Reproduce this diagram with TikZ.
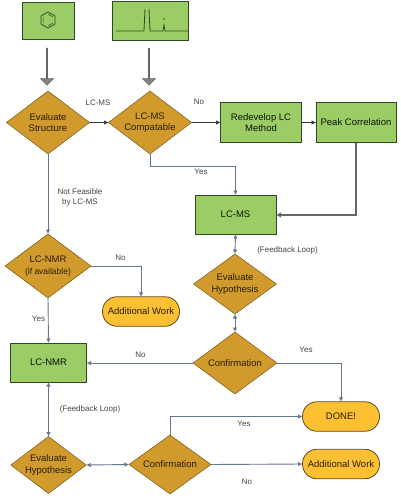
\documentclass[tikz,border=0pt]{standalone}
\usepackage{fontspec}
\setmainfont{Liberation Sans}
\usetikzlibrary{shapes.geometric,shapes.arrows,arrows.meta,calc}
\definecolor{boxgreen}{HTML}{9CCC65}
\definecolor{boxedge}{HTML}{2F4A22}
\definecolor{dia}{HTML}{D09A2C}
\definecolor{diaedge}{HTML}{7A5A20}
\definecolor{pill}{HTML}{FCC032}
\definecolor{pilledge}{HTML}{5E4A20}
\definecolor{conn}{HTML}{66758E}
\definecolor{blockgrey}{HTML}{858585}
\definecolor{lbl}{HTML}{444444}
\tikzset{
  x=1pt,y=-1pt,
  stepbox/.style={draw=boxedge,line width=0.9pt,fill=boxgreen,rectangle,inner sep=0,outer sep=0,align=center,font=\fontsize{9.5}{11.5}\selectfont,text=black!75!boxedge},
  decision/.style={diamond,draw=diaedge,line width=0.5pt,fill=dia,inner sep=0,outer sep=0,shape aspect=1.4,align=center,font=\fontsize{9.5}{11.5}\selectfont,text=black!80!dia},
  terminal/.style={rectangle,rounded corners=14.5pt,draw=pilledge,line width=0.8pt,fill=pill,inner sep=0,outer sep=0,align=center,minimum width=77pt,minimum height=29.5pt,font=\fontsize{9.5}{11.5}\selectfont,text=black!85!pill},
  conn/.style={draw=conn,line width=0.9pt,-{Latex[length=4.5pt,width=4.5pt]}},
  connb/.style={draw=conn,line width=0.9pt,{Latex[length=4.5pt,width=4.5pt]}-{Latex[length=4.5pt,width=4.5pt]}},
  blackconn/.style={draw=black!80,line width=0.7pt,-{Latex[length=4.5pt,width=4.5pt]}},
  heavyconn/.style={draw=black!60,line width=1.3pt,-{Latex[length=5pt,width=5.5pt]}},
  lab/.style={font=\fontsize{8}{10}\selectfont,text=lbl,align=center,inner sep=0},
  blockarrow/.style={single arrow,draw=black!60,line width=0.6pt,fill=blockgrey,rotate=-90,minimum height=37pt,minimum width=13pt,single arrow head extend=4pt,single arrow tip angle=90,inner sep=0,outer sep=0},
  glyph/.style={draw=boxedge,line width=0.8pt}
}
\begin{document}
\begin{tikzpicture}
\useasboundingbox (0,0) rectangle (400,498);
\fill[white] (0,0) rectangle (400,498);
% picture boxes
\node[stepbox,minimum width=52pt,minimum height=37pt] (pic1) at (48,20.5) {};
\node[stepbox,minimum width=76pt,minimum height=39pt] (pic2) at (150,20.5) {};
\draw[glyph] (48,12) -- (55,16) -- (55,24) -- (48,28) -- (41,24) -- (41,16) -- cycle;
\draw[glyph,line width=0.5pt] (43,17) -- (43,23) (48,14) -- (53,17) (48,26) -- (53,23);
\draw[glyph] (116,31) -- (144,31) -- (145,9) (149,9) -- (150,31) -- (161,31) -- (163,31) -- (164,25) -- (165,31) -- (188,31);
\fill[boxedge] (164,19) circle (0.9pt);
% block arrows
\node[blockarrow] (ga1) at (47,66.5) {};
\node[blockarrow] (ga2) at (149,66.5) {};
% decisions
\node[decision,minimum width=83pt,minimum height=63pt] (evals) at (48,122.5) {Evaluate\\Structure};
\node[decision,minimum width=83pt,minimum height=63pt] (compat) at (150,122.5) {LC-MS\\Compatable};
\node[decision,minimum width=86pt,minimum height=64pt] (nmrd) at (48,266) {LC-NMR\\{\fontsize{8.5}{10.5}\selectfont(if available)}};
\node[decision,minimum width=83pt,minimum height=60pt] (evalh) at (235,284) {Evaluate\\Hypothesis};
\node[decision,minimum width=84pt,minimum height=62pt] (conf) at (235,363) {Confirmation};
\node[decision,minimum width=75pt,minimum height=57pt] (evalh2) at (48.5,465) {Evaluate\\Hypothesis};
\node[decision,minimum width=82pt,minimum height=59pt] (conf2) at (170,464.5) {Confirmation};
% process boxes
\node[stepbox,minimum width=81pt,minimum height=40pt] (redev) at (261,122.5) {Redevelop LC\\Method};
\node[stepbox,minimum width=80pt,minimum height=40pt] (peak) at (356,122.5) {Peak Correlation};
\node[stepbox,minimum width=81pt,minimum height=39pt] (lcms) at (235.5,214.5) {LC-MS};
\node[stepbox,minimum width=76pt,minimum height=39pt] (lcnmr) at (48.5,362.5) {LC-NMR};
% terminals
\node[terminal] (add1) at (141,311.5) {Additional Work};
\node[terminal] (done) at (341,416.5) {DONE!};
\node[terminal] (add2) at (341,464) {Additional Work};
% corner helpers
\coordinate (c1) at (150,166);
\coordinate (c2) at (235.5,166);
\coordinate (c3) at (356,215);
\coordinate (c4) at (141,266);
\coordinate (c5) at (341,363);
\coordinate (c6) at (170,416.5);
% connectors
\draw[blackconn] (evals.east) -- (compat.west);
\draw[blackconn] (compat.east) -- (redev.west);
\draw[blackconn] (redev.east) -- (peak.west);
\draw[heavyconn] (peak.south) -- (c3) -- (lcms.east |- c3);
\draw[conn] (compat.south) -- (c1) -- (c2) -- (lcms.north);
\draw[connb] (lcms.south) -- (evalh.north);
\draw[connb] (evalh.south) -- (conf.north);
\draw[conn] (conf.east) -- (c5) -- (done.north);
\draw[conn] (conf.west) -- (lcnmr.east |- conf.west);
\draw[conn] (evals.south) -- (nmrd.north);
\draw[conn] (nmrd.east) -- (c4) -- (add1.north);
\draw[conn] (nmrd.south) -- (lcnmr.north);
\draw[connb] (lcnmr.south) -- (evalh2.north);
\draw[connb] (evalh2.east) -- (conf2.west);
\draw[conn] (conf2.north) -- (c6) -- (done.west);
\draw[conn] (conf2.east) -- (add2.west);
% labels
\node[lab] (l1) at (98,103) {LC-MS};
\node[lab] (l2) at (199,102) {No};
\node[lab] (l3) at (201,172) {Yes};
\node[lab] (l4) at (80,197) {Not Feasible\\by LC-MS};
\node[lab] (l5) at (120.5,257.5) {No};
\node[lab] (l6) at (38.5,318.5) {Yes};
\node[lab] (l7) at (287.5,250) {(Feedback Loop)};
\node[lab] (l8) at (306,350) {Yes};
\node[lab] (l9) at (140.5,354.5) {No};
\node[lab] (l10) at (90,409) {(Feedback Loop)};
\node[lab] (l11) at (244,423.5) {Yes};
\node[lab] (l12) at (247,481.5) {No};
\end{tikzpicture}
\end{document}
